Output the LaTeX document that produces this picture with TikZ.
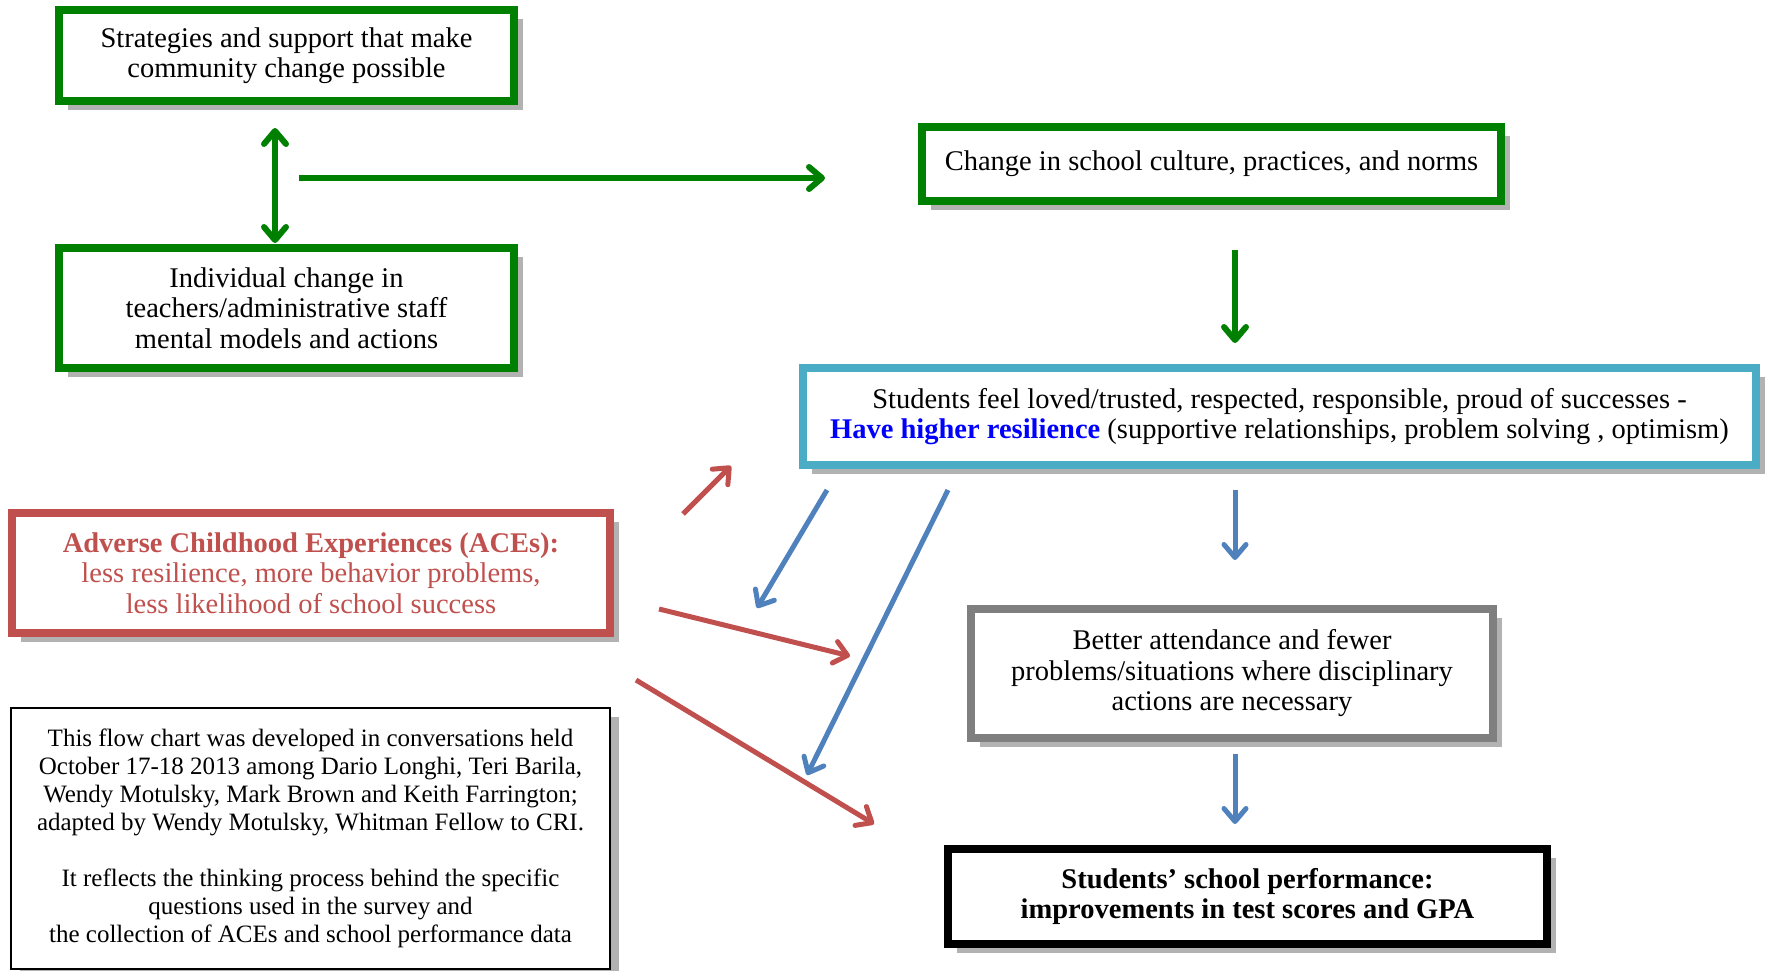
\documentclass[tikz,border=0pt]{standalone}
\usepackage{fontspec}
\setmainfont{Liberation Serif}
\usetikzlibrary{arrows.meta,shadows}
\definecolor{ccGreen}{HTML}{008000}
\definecolor{ccAqua}{HTML}{4BACC6}
\definecolor{ccRed}{HTML}{C0504D}
\definecolor{ccBlue}{HTML}{4F81BD}
\definecolor{ccGrey}{HTML}{7F7F7F}
\definecolor{ccLink}{HTML}{0000FF}
\newcommand{\boxfont}{\fontsize{28.5}{30.5}\selectfont}
\newcommand{\notefont}{\fontsize{25}{28}\selectfont}
\tikzset{
  box/.style={draw,line width=8pt,fill=white,align=center,inner sep=0pt,
              font=\boxfont,
              drop shadow={shadow xshift=9pt,shadow yshift=-9pt,opacity=.3,fill=black}},
  gbox/.style={box,draw=ccGreen},
  abox/.style={box,draw=ccAqua},
  rbox/.style={box,draw=ccRed,text=ccRed},
  gybox/.style={box,draw=ccGrey},
  kbox/.style={box,draw=black,font=\boxfont\bfseries},
  note/.style={box,draw=black,line width=2.5pt,font=\notefont},
  tip/.tip={Straight Barb[length=13pt,width=22pt,round]},
  arr/.style={line width=6pt,-tip},
  garr/.style={arr,draw=ccGreen},
  barr/.style={arr,draw=ccBlue,line width=5pt},
  rarr/.style={arr,draw=ccRed,line width=5pt},
}

\begin{document}
\begin{tikzpicture}[x=1pt,y=-1pt]
  \useasboundingbox (0,0) rectangle (1765,971);

  \node[gbox,minimum width=455pt,minimum height=91pt] (strat) at (286.5,55.5)
    {Strategies and support that make\\ community change possible};
  \node[gbox,minimum width=455pt,minimum height=120pt] (indiv) at (286.5,308)
    {Individual change in\\ teachers/administrative staff\\ mental models and actions};
  \node[gbox,minimum width=579pt,minimum height=74pt] (culture) at (1211.5,164)
    {Change in school culture, practices, and norms};
  \node[abox,minimum width=953pt,minimum height=97pt] (resil) at (1279.5,416.5)
    {Students feel loved/trusted, respected, responsible, proud of successes -\\
     \textcolor{ccLink}{\textbf{Have higher resilience}} (supportive relationships, problem solving , optimism)};
  \node[rbox,minimum width=598pt,minimum height=120pt] (aces) at (311,573)
    {\textbf{Adverse Childhood Experiences (ACEs):}\\ less resilience, more behavior problems,\\ less likelihood of school success};
  \node[note,minimum width=599pt,minimum height=261pt] (notes) at (310.5,838.5)
    {This flow chart was developed in conversations held\\
     October 17-18 2013 among Dario Longhi, Teri Barila,\\
     Wendy Motulsky, Mark Brown and Keith Farrington;\\
     adapted by Wendy Motulsky, Whitman Fellow to CRI.\\[28pt]
     It reflects the thinking process behind the specific\\
     questions used in the survey and\\
     the collection of ACEs and school performance data};
  \node[gybox,minimum width=522pt,minimum height=129pt] (attend) at (1232,673.5)
    {Better attendance and fewer\\ problems/situations where disciplinary\\ actions are necessary};
  \node[kbox,minimum width=599pt,minimum height=95pt] (perf) at (1247.5,896.5)
    {Students' school performance:\\ improvements in test scores and GPA};

  \coordinate (sb) at (275,128);
  \coordinate (ib) at (275,243);
  \coordinate (h1) at (299,178);
  \coordinate (h2) at (825,178);
  \coordinate (c1) at (1235,250);
  \coordinate (c2) at (1235,343);
  \coordinate (r1) at (1235,490);
  \coordinate (r2) at (1235,560);
  \coordinate (t1) at (1235,754);
  \coordinate (t2) at (1235,824);
  \coordinate (ba1) at (827,490);
  \coordinate (ba2) at (757,608);
  \coordinate (bb1) at (948,490);
  \coordinate (bb2) at (807,775);
  \coordinate (ra1) at (683,514);
  \coordinate (ra2) at (731,466);
  \coordinate (rb1) at (659,609);
  \coordinate (rb2) at (850,656);
  \coordinate (rc1) at (636,680);
  \coordinate (rc2) at (874,824);

  \draw[garr,tip-tip] (sb) -- (ib);
  \draw[garr] (h1) -- (h2);
  \draw[garr] (c1) -- (c2);
  \draw[barr] (r1) -- (r2);
  \draw[barr] (t1) -- (t2);
  \draw[barr] (ba1) -- (ba2);
  \draw[barr] (bb1) -- (bb2);
  \draw[rarr] (ra1) -- (ra2);
  \draw[rarr] (rb1) -- (rb2);
  \draw[rarr] (rc1) -- (rc2);
\end{tikzpicture}
\end{document}
